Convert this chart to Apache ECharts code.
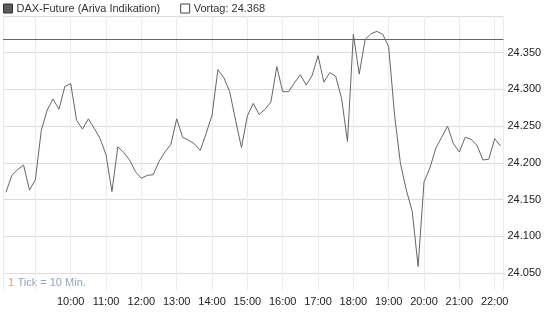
<!DOCTYPE html>
<html>
<head>
<meta charset="utf-8">
<script src="https://cdn.jsdelivr.net/npm/echarts@6/dist/echarts.min.js"></script>
<style>
html,body{margin:0;padding:0;background:#fff;}
#c{width:545px;height:327px;}
</style>
</head>
<body>
<div id="c"></div>
<script>
// Series name / legend labels
const seriesName = 'DAX-Future (Ariva Indikation)';
const prevCloseLabel = 'Vortag: 24.368';
const prevClose = 24368;

// Price every 10 minutes, 08:10 ... 22:10
const values = [
  24160, 24183, 24191, 24197, 24163, 24177, 24244, 24272, 24287, 24273,
  24304, 24308, 24258, 24246, 24260, 24247, 24233, 24211, 24161, 24222,
  24214, 24204, 24188, 24179, 24183, 24184, 24202, 24215, 24225, 24260,
  24235, 24231, 24226, 24217, 24240, 24265, 24327, 24316, 24297, 24258,
  24221, 24264, 24281, 24266, 24273, 24283, 24331, 24297, 24297, 24309,
  24320, 24306, 24319, 24346, 24310, 24323, 24318, 24288, 24229, 24375,
  24321, 24368, 24376, 24379, 24375, 24358, 24265, 24199, 24163, 24134,
  24059, 24174, 24193, 24220, 24235, 24250, 24226, 24215, 24235, 24232,
  24224, 24204, 24205, 24233, 24223
];

// Axis bounds
const yMin = 24027, yMax = 24400;
const startMinute = 8 * 60 + 5;   // axis start 08:05
const endMinute = 22 * 60 + 15;   // axis end 22:15
const dataStartMinute = 8 * 60 + 10;
const dataStepMinutes = 10;
const tickLabels = ['10:00','11:00','12:00','13:00','14:00','15:00','16:00','17:00','18:00','19:00','20:00','21:00','22:00'];

function fmtTime(m) {
  const h = Math.floor(m / 60), mm = m % 60;
  return (h < 10 ? '0' : '') + h + ':' + (mm < 10 ? '0' : '') + mm;
}
const categories = [];
for (let m = startMinute; m <= endMinute; m += 5) categories.push(fmtTime(m));
const dataTimes = values.map((v, i) => fmtTime(dataStartMinute + i * dataStepMinutes));
const seriesData = values.map((v, i) => [dataTimes[i], v]);

function deFmt(v) {
  v = Math.round(v);
  const th = Math.floor(v / 1000), r = v % 1000;
  return th + '.' + String(r).padStart(3, '0');
}

const FONT = '"Liberation Sans", Arial, sans-serif';
const chart = echarts.init(document.getElementById('c'), null, {renderer: 'canvas'});
chart.setOption({
  animation: false,
  backgroundColor: '#fff',
  textStyle: {fontFamily: FONT},
  legend: {
    left: 3, top: 3, padding: 0,
    icon: 'rect',
    itemWidth: 9, itemHeight: 9, itemGap: 20,
    textStyle: {fontFamily: FONT, fontSize: 11, color: '#333', padding: [0,0,0,-1]},
    selectedMode: false,
    data: [
      {name: seriesName, itemStyle: {color: '#5c5c5c', borderColor: '#333', borderWidth: 1}},
      {name: prevCloseLabel, itemStyle: {color: '#fff', borderColor: '#444', borderWidth: 1}}
    ]
  },
  grid: {left: 3, right: 41.5, top: 16, bottom: 37, containLabel: false, outerBoundsMode: 'none'},
  xAxis: {
    type: 'category',
    data: categories,
    boundaryGap: false,
    axisLine: {show: false},
    axisTick: {show: false},
    axisLabel: {
      fontFamily: FONT, fontSize: 11, color: '#222', margin: 6,
      interval: (i, v) => tickLabels.indexOf(v) >= 0,
      formatter: v => v
    },
    splitLine: {
      show: true,
      interval: (i, v) => v.endsWith(':00') || i === 0 || i === categories.length - 1,
      lineStyle: {color: '#ececec', width: 1}
    }
  },
  yAxis: {
    type: 'value',
    position: 'right',
    min: yMin, max: yMax,
    splitNumber: 7,
    axisLine: {show: false},
    axisTick: {show: false},
    axisLabel: {
      fontFamily: FONT, fontSize: 11, color: '#222', margin: 4,
      showMinLabel: false, showMaxLabel: false,
      formatter: deFmt
    },
    splitLine: {show: true, showMinLine: false, lineStyle: {color: '#dcdcdc', width: 1}}
  },
  graphic: [{
    type: 'text', left: 8, top: 277,
    style: {
      text: '{o|1} {b|Tick = 10 Min.}',
      rich: {
        o: {fill: '#d9a66b', fontSize: 11, fontFamily: FONT},
        b: {fill: '#8fa3c6', fontSize: 11, fontFamily: FONT}
      }
    }
  }],
  series: [
    {
      name: seriesName,
      type: 'line',
      data: seriesData,
      symbol: 'none',
      connectNulls: true,
      lineStyle: {color: '#666', width: 1},
      itemStyle: {color: '#5c5c5c'},
      markLine: {
        silent: true,
        symbol: 'none',
        label: {show: false},
        lineStyle: {color: '#666', width: 1, type: 'solid'},
        data: [{yAxis: prevClose}]
      }
    },
    {
      name: prevCloseLabel,
      type: 'line',
      data: [],
      symbol: 'none',
      lineStyle: {color: '#666', width: 1},
      itemStyle: {color: '#fff', borderColor: '#444'}
    }
  ]
});
</script>
</body>
</html>
